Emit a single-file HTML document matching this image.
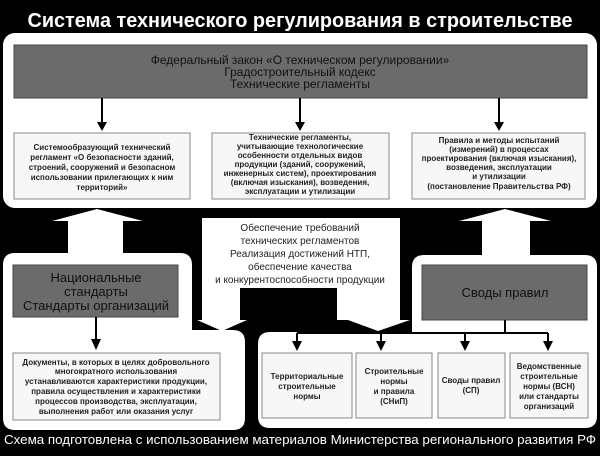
<!DOCTYPE html>
<html><head><meta charset="utf-8"><style>
body{margin:0;background:#000;width:600px;height:451px;overflow:hidden;font-family:"Liberation Sans",sans-serif}
</style></head><body>
<svg width="600" height="451" viewBox="0 0 600 451" xmlns="http://www.w3.org/2000/svg" font-family="Liberation Sans, sans-serif">
<rect width="600" height="451" fill="#000"/>
<text x="300" y="27" fill="#fff" font-size="20" font-weight="bold" text-anchor="middle" textLength="545" lengthAdjust="spacingAndGlyphs">Система технического регулирования в строительстве</text>
<!-- top panel -->
<rect x="3" y="33" width="594" height="175" rx="12" fill="#fff"/>
<rect x="14" y="45" width="573" height="53" fill="#6b6b6b" stroke="#444"/>
<g font-size="12" text-anchor="middle" fill="#111">
<text x="300" y="64">Федеральный закон «О техническом регулировании»</text>
<text x="300" y="76">Градостроительный кодекс</text>
<text x="300" y="88">Технические регламенты</text>
</g>
<g stroke="#000" stroke-width="2">
<line x1="102" y1="98" x2="102" y2="122"/><line x1="300" y1="98" x2="300" y2="122"/><line x1="499" y1="98" x2="499" y2="122"/>
</g>
<g fill="#000">
<polygon points="97,122 107,122 102,131"/><polygon points="295,122 305,122 300,131"/><polygon points="494,122 504,122 499,131"/>
</g>
<g fill="#f7f7f7" stroke="#888" stroke-width="1">
<rect x="14" y="133" width="176" height="66"/>
<rect x="212" y="133" width="177" height="66"/>
<rect x="412" y="133" width="173" height="66"/>
</g>
<g font-size="8" text-anchor="middle" fill="#222" font-weight="bold">
<text x="102" y="150">Системообразующий технический</text>
<text x="102" y="160">регламент «О безопасности зданий,</text>
<text x="102" y="170">строений, сооружений и безопасном</text>
<text x="102" y="180">использовании прилегающих к ним</text>
<text x="102" y="190">территорий»</text>
<text x="300" y="140">Технические регламенты,</text>
<text x="300" y="149">учитывающие технологические</text>
<text x="300" y="158">особенности отдельных видов</text>
<text x="300" y="167">продукции (зданий, сооружений,</text>
<text x="300" y="176">инженерных систем), проектирования</text>
<text x="300" y="185">(включая изыскания), возведения,</text>
<text x="300" y="194">эксплуатации и утилизации</text>
<text x="499" y="143">Правила и методы испытаний</text>
<text x="499" y="152">(измерений) в процессах</text>
<text x="499" y="161">проектирования (включая изыскания),</text>
<text x="499" y="170">возведения, эксплуатации</text>
<text x="499" y="179">и утилизации</text>
<text x="499" y="189">(постановление Правительства РФ)</text>
</g>
<!-- up arrows -->
<polygon points="97,209 143,221 123,221 123,256 68,256 68,221 52,221" fill="#fff"/>
<polygon points="505,209 551,221 530,221 530,258 482,258 482,221 459,221" fill="#fff"/>
<!-- middle box with down arrows -->
<path d="M202,218 H400 V320 H410 L378,331 L348,320 H337 V288 H240 V320 H247 L222,331 L197,320 H202 Z" fill="#fff"/>
<g font-size="10" text-anchor="middle" fill="#222">
<text x="300" y="231">Обеспечение требований</text>
<text x="300" y="244">технических регламентов</text>
<text x="300" y="257">Реализация достижений НТП,</text>
<text x="300" y="270">обеспечение качества</text>
<text x="300" y="283">и конкурентоспособности продукции</text>
</g>
<!-- left bottom panel -->
<path d="M15,253 H180 Q192,253 192,265 V330 H233 Q245,330 245,342 V418 Q245,430 233,430 H15 Q3,430 3,418 V265 Q3,253 15,253 Z" fill="#fff"/>
<rect x="13" y="265" width="165" height="52" fill="#6b6b6b" stroke="#444"/>
<g font-size="13" text-anchor="middle" fill="#111">
<text x="96" y="282">Национальные</text><text x="96" y="296">стандарты</text><text x="96" y="310">Стандарты организаций</text>
</g>
<line x1="96" y1="317" x2="96" y2="340" stroke="#000" stroke-width="2"/>
<polygon points="91,339 101,339 96,350" fill="#000"/>
<rect x="13" y="353" width="207" height="67" fill="#f7f7f7" stroke="#888"/>
<g font-size="8" text-anchor="middle" fill="#222" font-weight="bold">
<text x="116" y="365">Документы, в которых в целях добровольного</text>
<text x="116" y="374">многократного использования</text>
<text x="116" y="384">устанавливаются характеристики продукции,</text>
<text x="116" y="394">правила осуществления и характеристики</text>
<text x="116" y="404">процессов производства, эксплуатации,</text>
<text x="116" y="414">выполнения работ или оказания услуг</text>
</g>
<!-- right bottom panel -->
<path d="M424,255 H585 Q597,255 597,267 V416 Q597,428 585,428 H270 Q258,428 258,416 V344 Q258,332 270,332 H412 V267 Q412,255 424,255 Z" fill="#fff"/>
<rect x="422" y="265" width="165" height="55" fill="#6b6b6b" stroke="#444"/>
<text x="505" y="297" font-size="13" text-anchor="middle" fill="#111">Своды правил</text>
<g stroke="#000" stroke-width="2">
<line x1="505" y1="320" x2="505" y2="333"/><line x1="297" y1="333" x2="548" y2="333"/>
<line x1="297" y1="333" x2="297" y2="342"/><line x1="381" y1="333" x2="381" y2="342"/><line x1="465" y1="333" x2="465" y2="342"/><line x1="548" y1="333" x2="548" y2="342"/>
</g>
<g fill="#000">
<polygon points="292,341 302,341 297,351"/><polygon points="376,341 386,341 381,351"/><polygon points="460,341 470,341 465,351"/><polygon points="543,341 553,341 548,351"/>
</g>
<g fill="#f7f7f7" stroke="#888">
<rect x="262" y="353" width="90" height="65"/>
<rect x="356" y="353" width="76" height="65"/>
<rect x="438" y="353" width="67" height="65"/>
<rect x="510" y="353" width="78" height="65"/>
</g>
<g font-size="8" text-anchor="middle" fill="#222" font-weight="bold">
<text x="307" y="379">Территориальные</text><text x="307" y="389">строительные</text><text x="307" y="399">нормы</text>
<text x="394" y="374">Строительные</text><text x="394" y="384">нормы</text><text x="394" y="394">и правила</text><text x="394" y="404">(СНиП)</text>
<text x="471" y="383">Своды правил</text><text x="471" y="393">(СП)</text>
<text x="549" y="369">Ведомственные</text><text x="549" y="379">строительные</text><text x="549" y="389">нормы (ВСН)</text><text x="549" y="399">или стандарты</text><text x="549" y="409">организаций</text>
</g>
<text x="300" y="444" font-size="13" text-anchor="middle" fill="#fff" textLength="592" lengthAdjust="spacingAndGlyphs">Схема подготовлена с использованием материалов Министерства регионального развития РФ</text>
</svg>
</body></html>
